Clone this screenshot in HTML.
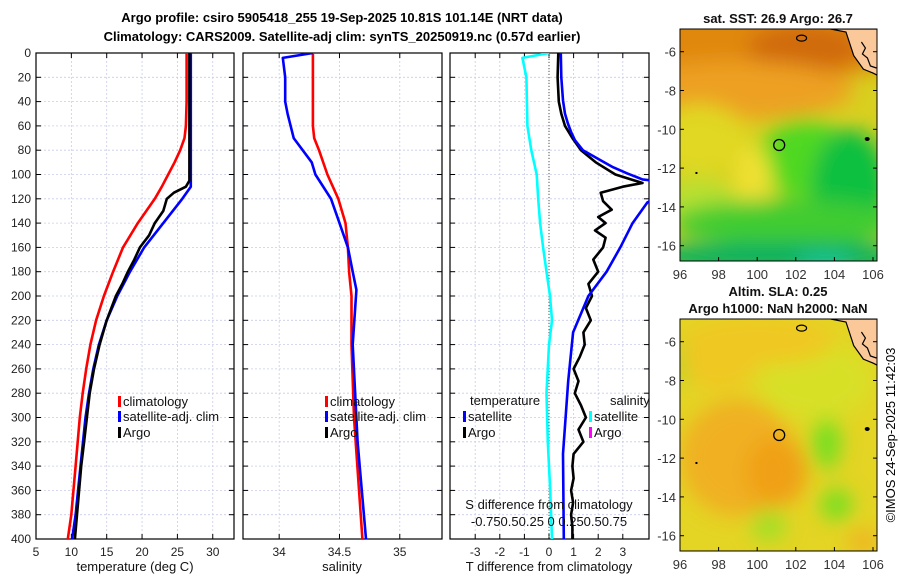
<!DOCTYPE html>
<html><head><meta charset="utf-8"><style>
body{margin:0;background:#fff}
svg{display:block;font-family:"Liberation Sans","DejaVu Sans",sans-serif}
</style></head><body>
<svg id="fig" width="900" height="580" viewBox="0 0 900 580" xmlns="http://www.w3.org/2000/svg">
<defs>
<clipPath id="c1"><rect x="36" y="53" width="198" height="486"/></clipPath>
<clipPath id="c2"><rect x="243" y="53" width="199" height="486"/></clipPath>
<clipPath id="c3"><rect x="450" y="53" width="199" height="486"/></clipPath>
<clipPath id="m1"><rect x="680" y="29" width="197" height="232"/></clipPath>
<clipPath id="m2"><rect x="680" y="319" width="197" height="232"/></clipPath>
<filter id="bl" x="-50%" y="-50%" width="200%" height="200%"><feGaussianBlur stdDeviation="10"/></filter>
</defs>
<text x="342" y="22" text-anchor="middle" font-size="13" font-weight="bold">Argo profile: csiro 5905418_255 19-Sep-2025 10.81S 101.14E (NRT data)</text>
<text x="342" y="41" text-anchor="middle" font-size="13" font-weight="bold">Climatology: CARS2009. Satellite-adj clim: synTS_20250919.nc (0.57d earlier)</text>
<g id="p1"></g>
<g id="p2"></g>
<g id="p3"></g>
<g id="map1"></g>
<g id="map2"></g>
<text transform="translate(895,435) rotate(-90)" text-anchor="middle" font-size="13">©IMOS 24-Sep-2025 11:42:03</text>
</svg>
<script>
// ---- data ----
const depthTicks = [0,20,40,60,80,100,120,140,160,180,200,220,240,260,280,300,320,340,360,380,400];
const tTicks = [5,10,15,20,25,30];
const sTicks = [34,34.5,35];
const dTicks = [-3,-2,-1,0,1,2,3];
const climDepth = [0,20,40,60,70,80,90,100,110,120,140,160,180,200,220,240,260,280,300,340,380,400];
const climTemp  = [26.3,26.3,26.3,26.2,26.0,25.4,24.6,23.7,22.8,21.8,19.4,17.3,15.9,14.6,13.5,12.7,12.1,11.6,11.2,10.6,10.0,9.5];
const satDepth = [0,40,80,110,120,140,160,180,200,220,240,260,280,300,340,380,400];
const satTemp  = [26.9,26.9,26.9,26.9,25.7,23.0,20.3,18.3,16.5,15.0,13.9,13.1,12.5,12.0,11.3,10.6,10.1];
const argoDepth = [0,40,80,105,110,115,120,130,140,150,160,170,180,190,200,220,240,260,280,300,320,340,360,380,400];
const argoTemp  = [26.7,26.7,26.7,26.7,26.2,24.5,23.5,23.0,21.8,21.0,19.7,18.9,18.0,17.2,16.3,15.0,14.0,13.2,12.6,12.2,11.8,11.4,11.1,10.8,10.5];
const climSalDepth = [0,60,70,80,100,120,140,160,180,200,240,300,400];
const climSal = [34.28,34.28,34.29,34.33,34.40,34.49,34.55,34.57,34.58,34.6,34.6,34.62,34.69];
const satSalDepth = [0,4,20,40,50,70,90,100,120,140,160,180,195,240,320,400];
const satSal = [34.28,34.03,34.05,34.05,34.07,34.12,34.27,34.30,34.43,34.50,34.57,34.61,34.64,34.61,34.65,34.72];
const sDiffDepth = [0,4,20,60,80,100,120,140,160,180,200,220,240,280,320,360,400];
const sDiff = [0,-0.27,-0.23,-0.22,-0.18,-0.125,-0.11,-0.09,-0.06,-0.025,0.01,0.03,0.0,-0.025,-0.012,0.012,0.03];
const tDiffSatDepth = [0,20,39,50,58,65,72,80,88,94,99,104,108,123,140,160,180,200,230,270,330,400];
const tDiffSat = [0.48,0.5,0.57,0.65,0.77,0.9,1.06,1.38,2.07,2.6,3.17,3.8,5.5,4.0,3.4,2.9,2.34,1.6,0.98,0.78,0.57,0.6];
const tDiffArgoDepth = [0,20,40,50,60,70,80,90,100,107,110,115,122,129,135,140,146,152,160,170,180,190,200,210,220,230,240,250,260,270,280,290,300,310,320,330,340,350,360,370,380,390,400];
const tDiffArgo = [0.38,0.35,0.4,0.5,0.65,0.95,1.3,1.9,2.7,3.8,3.0,2.1,2.2,2.55,2.0,2.3,1.87,2.3,2.2,1.8,2.0,1.6,1.75,1.5,1.7,1.4,1.45,1.25,1.0,1.2,1.05,1.3,1.5,1.2,1.4,1.0,0.95,1.0,0.9,0.98,0.9,0.95,0.95];
// ---- geometry ----
const NS="http://www.w3.org/2000/svg";
const Y0=53, Y1=539;
const yD = d => Y0 + d*(Y1-Y0)/400;
const xT = t => 36 + (t-5)*7.07;
const xS = s => 243 + (s-33.7)*120.6;
const xDf = t => 549 + t*24.6;
function mk(tag, attrs, parent){const e=document.createElementNS(NS,tag);for(const k in attrs)e.setAttribute(k,attrs[k]);parent.appendChild(e);return e;}
function panel(g, x0, x1, xs, xticks, xlabels, withYLabels){
  for(const d of depthTicks){
    const y=yD(d);
    if(d>0&&d<400) mk('line',{x1:x0,x2:x1,y1:y,y2:y,stroke:'#c8cce8','stroke-width':0.8,'stroke-dasharray':'2,2'},g);
    mk('line',{x1:x0,x2:x0+5,y1:y,y2:y,stroke:'#000'},g);
    mk('line',{x1:x1-5,x2:x1,y1:y,y2:y,stroke:'#000'},g);
    if(withYLabels){const t=mk('text',{x:x0-5,y:y+4,'text-anchor':'end','font-size':12,fill:'#222'},g);t.textContent=d;
      
      }
  }
  xticks.forEach((v,i)=>{
    const x=xs(v);
    mk('line',{x1:x,x2:x,y1:Y0,y2:Y1,stroke:'#c8cce8','stroke-width':0.8,'stroke-dasharray':'2,2'},g);
    mk('line',{x1:x,x2:x,y1:Y1-5,y2:Y1,stroke:'#000'},g);
    mk('line',{x1:x,x2:x,y1:Y0,y2:Y0+5,stroke:'#000'},g);
    const t=mk('text',{x:x,y:556,'text-anchor':'middle','font-size':12,fill:'#222'},g);t.textContent=xlabels[i];
    
    
  });
  mk('rect',{x:x0,y:Y0,width:x1-x0,height:Y1-Y0,fill:'none',stroke:'#000','stroke-width':1.2},g);
}
function line(g, xs, vals, depths, color, clip){
  const pts=vals.map((v,i)=>xs(v).toFixed(1)+','+yD(depths[i]).toFixed(1)).join(' ');
  return mk('polyline',{points:pts,fill:'none',stroke:color,'stroke-width':2.6,'stroke-linejoin':'round','clip-path':'url(#'+clip+')'},g);
}
function txt(g,x,y,s,size,anchor,name){const t=mk('text',{x:x,y:y,'font-size':size||13,'text-anchor':anchor||'start',fill:'#111'},g);t.textContent=s;
  
  return t;}
function legend(g,x,y,color,label){mk('rect',{x:x,y:y-10,width:3,height:11,fill:color},g);txt(g,x+5,y,label,13,'start','legend-entry');}
// panel 1
const g1=document.getElementById('p1');
panel(g1,36,234,xT,tTicks,tTicks.map(String),true);
let e=line(g1,xT,climTemp,climDepth,'#f00','c1');
e=line(g1,xT,satTemp,satDepth,'#00f','c1');
e=line(g1,xT,argoTemp,argoDepth,'#000','c1');
legend(g1,118,406,'#f00','climatology');legend(g1,118,421,'#00f','satellite-adj. clim');legend(g1,118,437,'#000','Argo');
txt(g1,135,571,'temperature (deg C)',13,'middle','x-axis-title');
// panel 2
const g2=document.getElementById('p2');
panel(g2,243,442,xS,sTicks,["34","34.5","35"],false);
e=line(g2,xS,climSal,climSalDepth,'#f00','c2');
e=line(g2,xS,satSal,satSalDepth,'#00f','c2');
legend(g2,325,406,'#f00','climatology');legend(g2,325,421,'#00f','satellite-adj. clim');legend(g2,325,437,'#000','Argo');
txt(g2,342,571,'salinity',13,'middle','x-axis-title');
// panel 3
const g3=document.getElementById('p3');
panel(g3,450,649,xDf,dTicks,dTicks.map(String),false);
mk('line',{x1:xDf(0),x2:xDf(0),y1:Y0,y2:Y1,stroke:'#554',"stroke-width":1,'stroke-dasharray':'1,2'},g3);
e=line(g3,v=>xDf(v*4),sDiff,sDiffDepth,'#0ff','c3');
e=line(g3,xDf,tDiffArgo,tDiffArgoDepth,'#000','c3');
e=line(g3,xDf,tDiffSat,tDiffSatDepth,'#00f','c3');
txt(g3,470,405,'temperature',13,'start','legend-title');txt(g3,610,405,'salinity',13,'start','legend-title');
legend(g3,463,421,'#00f','satellite');legend(g3,463,437,'#000','Argo');
legend(g3,589,421,'#0ff','satellite');legend(g3,589,437,'#f0f','Argo');
txt(g3,549,509,'S difference from climatology',13,'middle','s-axis-title');
txt(g3,549,526,'-0.750.50.25 0 0.250.50.75',13,'middle','s-tick-labels');
txt(g3,549,571,'T difference from climatology',13,'middle','x-axis-title');
// ---- maps ----
const lonTicks=[96,98,100,102,104,106];
const latTicks=[-6,-8,-10,-12,-14,-16];
const argoLon=101.14, argoLat=-10.81;
function map(id,top,clip,blobs,base,title){
  const g=document.getElementById(id);
  const xL=l=>680+(l-96)*19.3, yL=l=>top+22.7+(-6-l)*19.4;
  const inner=mk('g',{'clip-path':'url(#'+clip+')'},g);
  mk('rect',{x:680,y:top,width:197,height:232,fill:base},inner);
  const bg=mk('g',{filter:'url(#bl)'},inner);
  blobs.forEach(b=>mk('ellipse',{cx:xL(b[0]),cy:yL(b[1]),rx:b[2]*19.3,ry:b[3]*19.4,fill:b[4]},bg));
  mk('path',{d:`M${xL(103.8)},${top} L${xL(104.6)},${top+3} L${xL(105)},${yL(-6.2)} L${xL(105.5)},${yL(-6.9)} L${xL(106)},${yL(-7.1)} L${xL(106.4)},${yL(-7.3)} L${xL(106.4)},${top} Z`,fill:'#fbc89a',stroke:'#000','stroke-width':1.2},inner);
  mk('path',{d:`M${xL(105.4)},${yL(-5.5)} l4,6 l-3,6 l5,4 l3,8 l6,2`,fill:'none',stroke:'#000','stroke-width':1.2},inner);
  mk('ellipse',{cx:xL(102.3),cy:yL(-5.3),rx:5,ry:3,fill:'none',stroke:'#000','stroke-width':1.2},inner);
  mk('ellipse',{cx:xL(105.7),cy:yL(-10.5),rx:2.5,ry:2,fill:'#000'},inner);
  mk('rect',{x:xL(96.8),y:yL(-12.2),width:2,height:2,fill:'#000'},inner);
  const c=mk('circle',{cx:xL(argoLon),cy:yL(argoLat),r:5.5,fill:'none',stroke:'#000','stroke-width':1.3},g);
  
  
  mk('rect',{x:680,y:top,width:197,height:232,fill:'none',stroke:'#000','stroke-width':1},g);
  lonTicks.forEach(l=>{mk('line',{x1:xL(l),x2:xL(l),y1:top+232,y2:top+228,stroke:'#000'},g);
    const t=txt(g,xL(l),top+250,String(l),13,'middle','lon-tick-label');t.setAttribute('fill','#333');});
  latTicks.forEach(l=>{mk('line',{x1:680,x2:684,y1:yL(l),y2:yL(l),stroke:'#000'},g);mk('line',{x1:873,x2:877,y1:yL(l),y2:yL(l),stroke:'#000'},g);
    const t=txt(g,676,yL(l)+5,String(l),13,'end','lat-tick-label');t.setAttribute('fill','#333');});
  title.forEach((s,i)=>{const t=txt(g,778,top-(title.length-1-i)*17-6,s,13,'middle','map-title');t.setAttribute('font-weight','bold');});
}
map('map1',29,'m1',[
 [100,-5,10,2.5,'#e08810'],[102.5,-5.8,3,1.2,'#d06a10'],[99,-8,6,1.5,'#eda020'],[97,-10.5,2.5,1.8,'#e0d820'],
 [102.5,-11.5,2.5,2,'#50d820'],[104.8,-13,2,3,'#10c040'],[99.8,-12.8,1,2,'#f0e030'],[97,-14,2,1.5,'#b8e030'],
 [101.5,-14.8,6,1.2,'#40cc30'],[101,-16.6,8,0.8,'#00b060'],[103.5,-16.8,1.5,0.3,'#10c8b0']],'#d8d020',['sat. SST: 26.9 Argo: 26.7']);
map('map2',319,'m2',[
 [99,-12,3,3,'#f0b020'],[101,-12.7,1.6,1.8,'#f0a018'],[103.6,-11.2,0.7,1.4,'#70e020'],[104.1,-14.4,0.8,0.8,'#70e020'],
 [96.1,-7,0.4,1.2,'#80d830'],[100.6,-15.5,0.9,0.8,'#a0e028'],[105.5,-16.3,0.8,0.6,'#f0b020'],[103,-8,3,2,'#d8e028'],[98,-7,2,1.5,'#f0c820'],[100,-6,4,1.2,'#f0c820']],'#e4d424',['Altim. SLA: 0.25','Argo h1000: NaN h2000: NaN']);
</script>
</body></html>
